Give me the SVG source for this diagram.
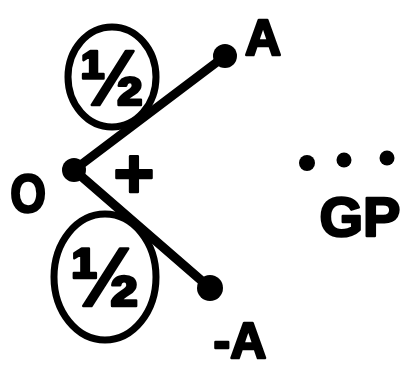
<svg xmlns="http://www.w3.org/2000/svg" width="408" height="368" viewBox="0 0 408 368">
<style>
.ln{stroke:#000;stroke-width:9;stroke-linecap:round;fill:none}
.ring{stroke:#000;stroke-width:7;fill:none}
.dot{fill:#000}
.t{font-family:"Liberation Sans","DejaVu Sans",sans-serif;font-weight:bold;fill:#000;stroke:#000;stroke-width:2.5;stroke-linejoin:round;text-anchor:middle}
</style>
<rect width="408" height="368" fill="#fff"/>
<g id="connectors">
<line class="ln" x1="74" y1="170" x2="225" y2="56"/>
<line class="ln" x1="74" y1="170" x2="210" y2="288"/>
</g>
<g id="node-O">
<circle class="dot" cx="74" cy="170" r="12"/>
<text class="t" x="28" y="212" font-size="54" transform="translate(28 192) scale(0.85 1) translate(-28 -192)">O</text>
</g>
<g id="node-A">
<circle class="dot" cx="225" cy="56" r="12"/>
<text class="t" x="263" y="55" font-size="50">A</text>
</g>
<g id="node-negA">
<circle class="dot" cx="210" cy="288" r="13"/>
<text class="t" x="240" y="358" font-size="50">-A</text>
</g>
<g id="weight-upper">
<ellipse class="ring" cx="112" cy="77" rx="44" ry="50"/>
<text class="t" x="112" y="105" font-size="78">½</text>
</g>
<g id="weight-lower">
<ellipse class="ring" cx="105" cy="277" rx="51" ry="63"/>
<text class="t" x="105" y="306" font-size="84">½</text>
</g>
<g id="plus">
<text class="t" x="134" y="198" font-size="70">+</text>
</g>
<g id="gp">
<circle class="dot" cx="307" cy="163" r="8"/>
<circle class="dot" cx="344" cy="160" r="7.5"/>
<circle class="dot" cx="387" cy="158" r="7.5"/>
<text class="t" x="360" y="236" font-size="56">GP</text>
</g>
</svg>
